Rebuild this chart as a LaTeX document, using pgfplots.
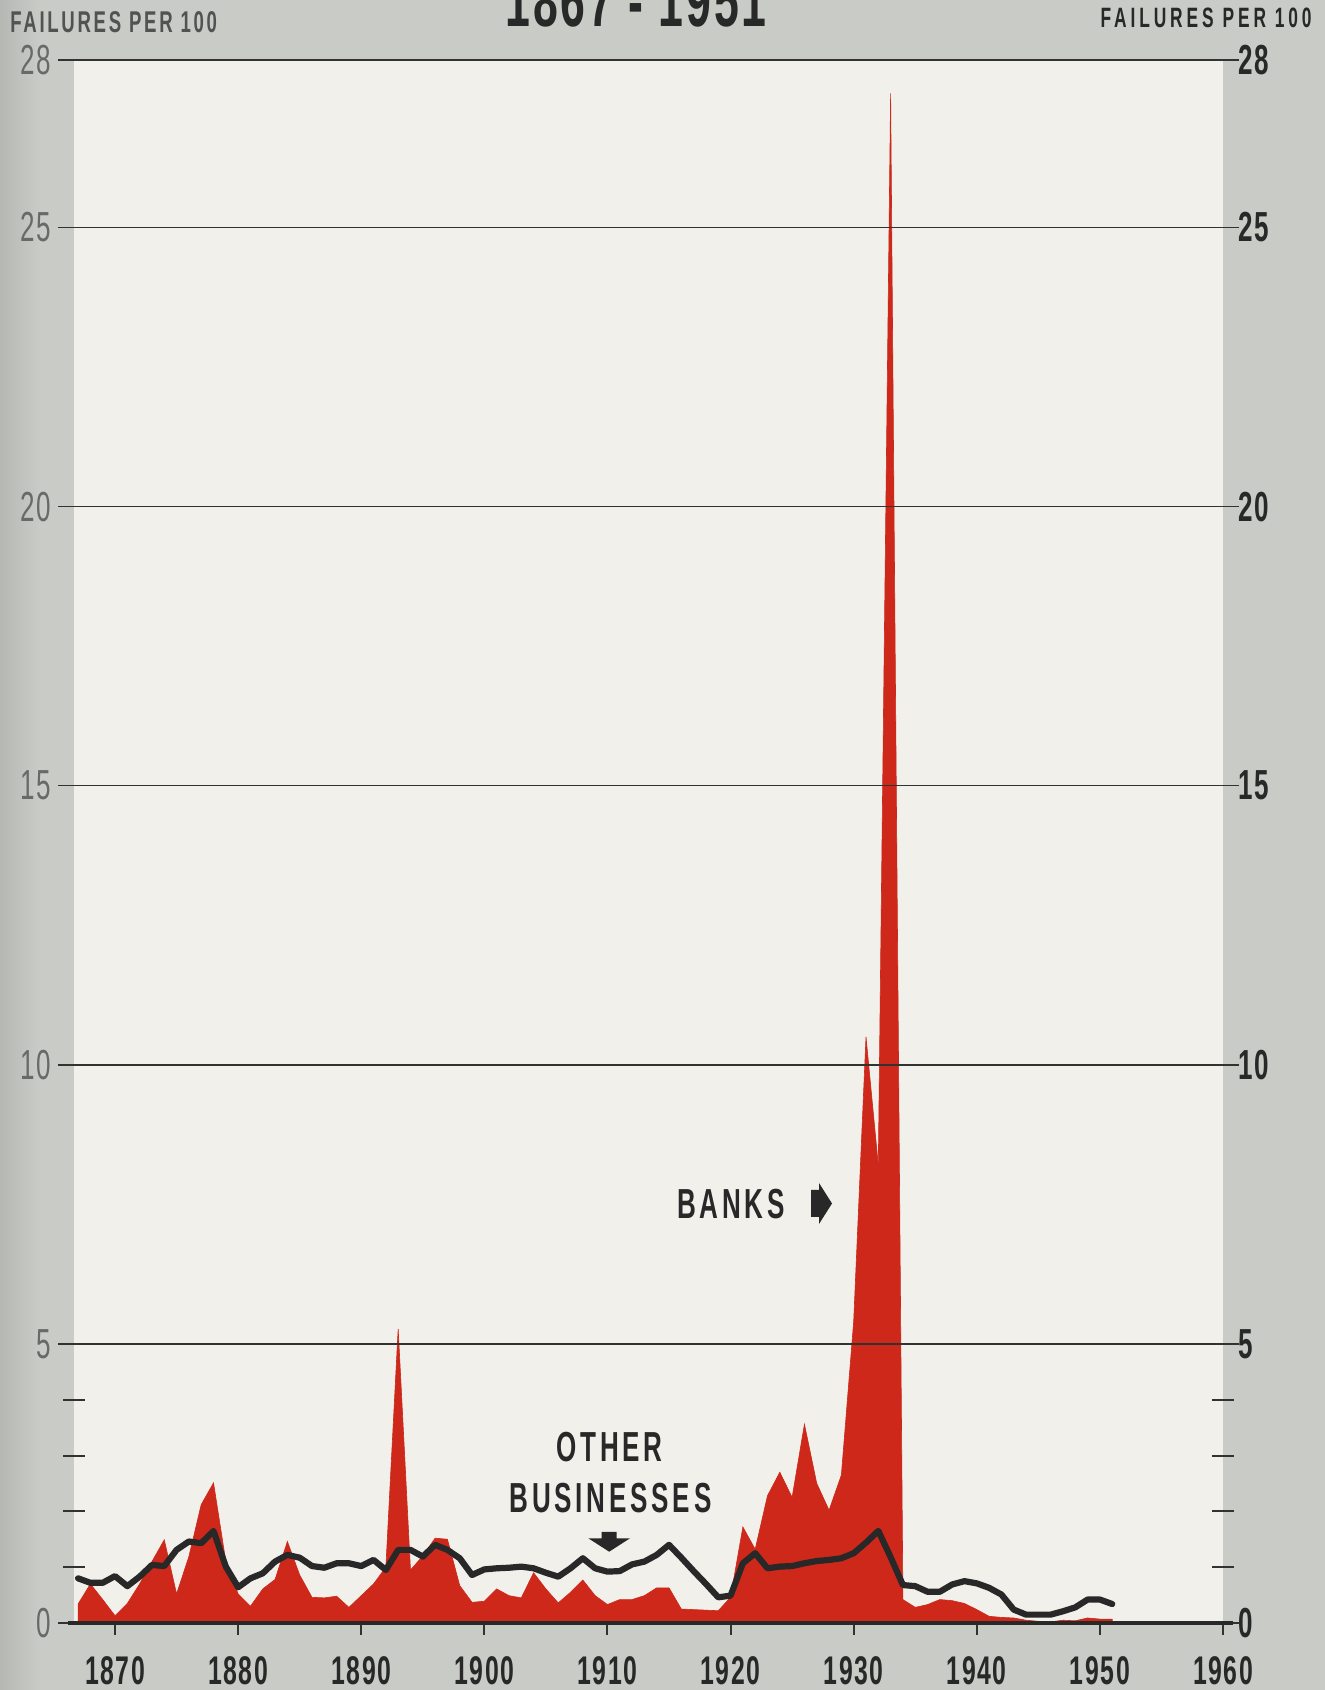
\documentclass[border=0pt]{standalone}
\usepackage{pgfplots}
\pgfplotsset{compat=1.18}
\usepackage{pgfplotstable}
\usepackage{fontspec}
\setmainfont{Liberation Sans}
\newfontfamily\cond{Liberation Sans}[FakeStretch=0.62, LetterSpace=4]
\newfontfamily\condw{Liberation Sans}[FakeStretch=0.62, LetterSpace=9]
\newfontfamily\condx{Liberation Sans}[FakeStretch=0.62, LetterSpace=14]

\definecolor{bggray}{RGB}{201,203,198}
\definecolor{bgdark}{RGB}{182,184,179}
\definecolor{paper}{RGB}{241,240,235}
\definecolor{bankred}{RGB}{205,40,26}
\definecolor{inkc}{RGB}{40,40,40}
\definecolor{gridc}{RGB}{50,50,50}
\definecolor{leftlab}{RGB}{105,105,105}

% failures per 100
\pgfplotstableread{
year banks
1867 0.34
1868 0.70
1869 0.42
1870 0.13
1871 0.35
1872 0.70
1873 1.10
1874 1.49
1875 0.52
1876 1.19
1877 2.12
1878 2.51
1879 1.10
1880 0.52
1881 0.30
1882 0.61
1883 0.78
1884 1.46
1885 0.86
1886 0.46
1887 0.45
1888 0.48
1889 0.28
1890 0.49
1891 0.70
1892 1.00
1893 5.27
1894 0.95
1895 1.20
1896 1.52
1897 1.50
1898 0.67
1899 0.37
1900 0.39
1901 0.61
1902 0.49
1903 0.45
1904 0.90
1905 0.61
1906 0.36
1907 0.55
1908 0.77
1909 0.49
1910 0.33
1911 0.42
1912 0.42
1913 0.49
1914 0.63
1915 0.63
1916 0.25
1917 0.24
1918 0.23
1919 0.22
1920 0.46
1921 1.72
1922 1.32
1923 2.28
1924 2.70
1925 2.25
1926 3.56
1927 2.50
1928 2.02
1929 2.65
1930 5.40
1931 10.50
1932 8.20
1933 27.40
1934 0.42
1935 0.28
1936 0.33
1937 0.42
1938 0.40
1939 0.35
1940 0.24
1941 0.12
1942 0.10
1943 0.09
1944 0.05
1945 0.03
1946 0.02
1947 0.05
1948 0.04
1949 0.09
1950 0.07
1951 0.07
}\banks

\pgfplotstableread{
year other
1867 0.80
1868 0.72
1869 0.72
1870 0.84
1871 0.66
1872 0.83
1873 1.04
1874 1.02
1875 1.31
1876 1.46
1877 1.43
1878 1.65
1879 1.01
1880 0.64
1881 0.80
1882 0.89
1883 1.10
1884 1.22
1885 1.17
1886 1.02
1887 0.99
1888 1.07
1889 1.07
1890 1.02
1891 1.13
1892 0.95
1893 1.31
1894 1.31
1895 1.19
1896 1.40
1897 1.31
1898 1.16
1899 0.86
1900 0.96
1901 0.98
1902 0.99
1903 1.01
1904 0.98
1905 0.90
1906 0.83
1907 0.98
1908 1.16
1909 0.98
1910 0.92
1911 0.93
1912 1.05
1913 1.10
1914 1.22
1915 1.40
1916 1.17
1917 0.93
1918 0.70
1919 0.46
1920 0.49
1921 1.07
1922 1.25
1923 0.98
1924 1.01
1925 1.02
1926 1.07
1927 1.11
1928 1.13
1929 1.16
1930 1.25
1931 1.44
1932 1.65
1933 1.18
1934 0.68
1935 0.66
1936 0.56
1937 0.56
1938 0.69
1939 0.75
1940 0.71
1941 0.63
1942 0.51
1943 0.24
1944 0.15
1945 0.15
1946 0.15
1947 0.21
1948 0.28
1949 0.42
1950 0.42
1951 0.34
}\other

\pgfplotsset{
  frame/.style={
    at={(37.2pt,33.5pt)}, anchor=south west,
    scale only axis, width=574.3pt, height=781.5pt,
    xmin=1866.7, xmax=1960, ymin=0, ymax=28,
    axis line style={draw=none},
    /pgf/number format/assume math mode=true,
    /pgf/number format/1000 sep={},
    ticklabel style={font=\cond\bfseries\fontsize{20}{20}\selectfont},
  },
}

\begin{document}
\begin{tikzpicture}
\useasboundingbox (0,0) rectangle (662.5pt,845pt);
\clip (0,0) rectangle (662.5pt,845pt);
\fill[bggray] (0,0) rectangle (662.5pt,845pt);
\shade[left color=bgdark, right color=bggray] (0,0) rectangle (20pt,845pt);

\begin{axis}[frame,
  axis background/.style={fill=paper},
  axis on top,
  xtick=\empty,
  ytick={0,5,10,15,20,25,28},
  minor ytick={1,2,3,4},
  ymajorgrids,
  major grid style={gridc, line width=0.8pt},
  tick align=center,
  major tick length=16pt, minor tick length=11pt,
  tick style={gridc, line width=0.8pt},
  minor tick style={gridc, line width=1pt},
  yticklabel style={text=leftlab, xshift=0pt,
    font=\cond\fontsize{21}{21}\selectfont},
]
\addplot[fill=bankred, draw=bankred, line width=0.3pt] table[x=year, y=banks] {\banks} \closedcycle;
\addplot[inkc, line width=3.1pt, line join=round, line cap=round] table[x=year, y=other] {\other};
\end{axis}

\begin{axis}[frame,
  clip=false,
  xtick={1870,1880,...,1960},
  xtick pos=bottom,
  tick align=outside,
  major tick length=6pt,
  x tick style={gridc, line width=1pt},
  ytick={0,5,10,15,20,25,28},
  ytick pos=right, yticklabel pos=right,
  y tick style={draw=none},
  yticklabel style={text=inkc, xshift=-2pt,
    font=\cond\bfseries\fontsize{21}{21}\selectfont},
  xticklabel style={text=inkc, yshift=-7.5pt},
]
\draw[inkc, line width=1.6pt] ([xshift=-3pt]rel axis cs:0,0) -- ([xshift=5pt]rel axis cs:1,0);
\end{axis}

% headers
\node[anchor=base west, inner sep=0pt, text=black!68, font=\condw\bfseries\fontsize{15}{15}\selectfont] at (5pt,828.5pt) {FAILURES PER 100};
\node[anchor=base east, inner sep=0pt, text=inkc, font=\condx\bfseries\fontsize{14}{14}\selectfont] at (656pt,831pt) {FAILURES PER 100};
\node[anchor=base, inner sep=0pt, text=inkc, font=\cond\bfseries\fontsize{36}{36}\selectfont] at (318pt,831.5pt) {1867 - 1951};

% annotations
\node[inner sep=0pt, text=inkc, font=\condw\bfseries\fontsize{21}{21}\selectfont] at (365.5pt,243pt) {BANKS};
\fill[inkc] (405.5pt,236.5pt) -- (405.5pt,250pt) -- (409.5pt,250pt) -- (409.5pt,253.5pt) -- (416pt,243.25pt) -- (409.5pt,233pt) -- (409.5pt,236.5pt) -- cycle;
\node[inner sep=0pt, text=inkc, font=\condw\bfseries\fontsize{21}{21}\selectfont] at (304.75pt,121.5pt) {OTHER};
\node[inner sep=0pt, text=inkc, font=\condw\bfseries\fontsize{21}{21}\selectfont] at (305.25pt,96pt) {BUSINESSES};
\fill[inkc] (300.85pt,79pt) -- (308.35pt,79pt) -- (308.35pt,75.85pt) -- (315pt,75.85pt) -- (304.6pt,69.15pt) -- (294.15pt,75.85pt) -- (300.85pt,75.85pt) -- cycle;
\end{tikzpicture}
\end{document}
